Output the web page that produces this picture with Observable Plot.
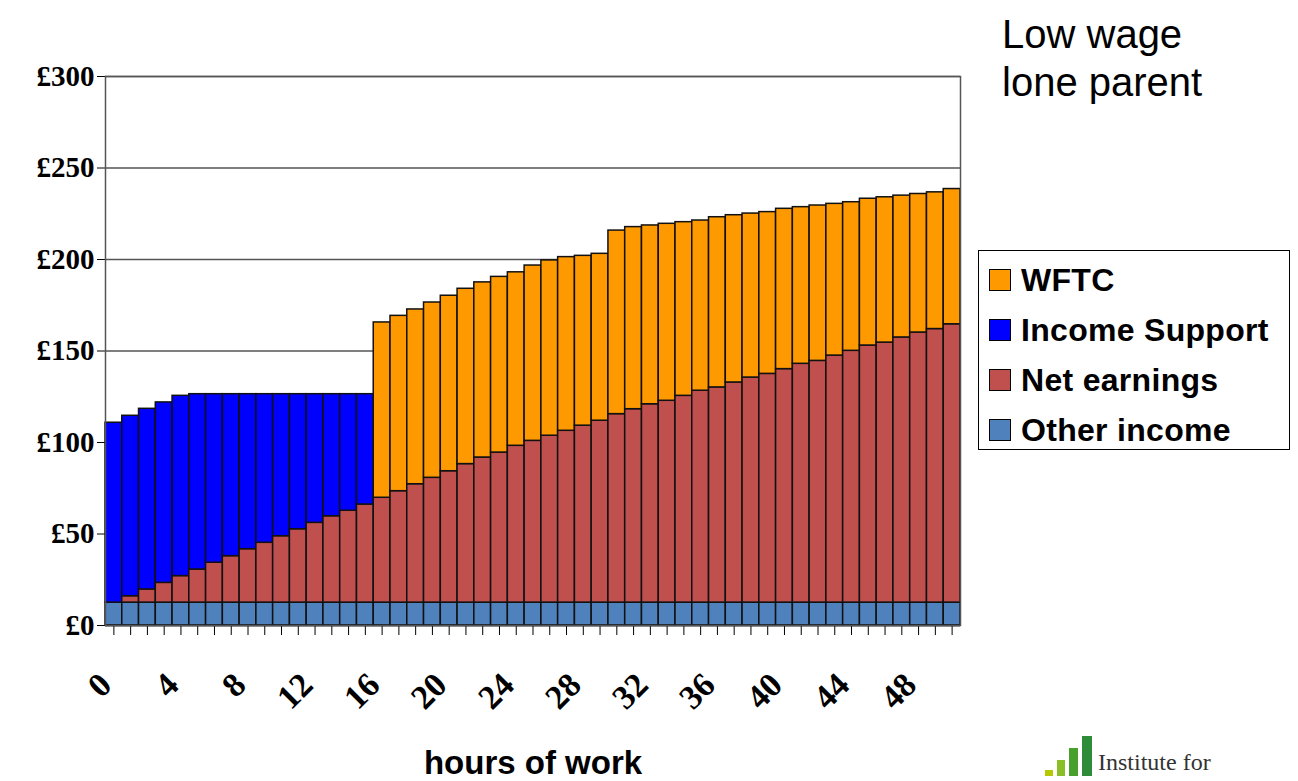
<!DOCTYPE html>
<html>
<head>
<meta charset="utf-8">
<script src="https://cdn.jsdelivr.net/npm/d3@7"></script>
<script src="https://cdn.jsdelivr.net/npm/@observablehq/plot@0.6"></script>
<style>
  body { margin: 0; background: #fff; }
  #wrap { position: relative; width: 1298px; height: 781px; }
  #title { position: absolute; left: 1002px; top: 10px; font: 40px Arial, "Liberation Sans", sans-serif; line-height: 48px; }
  #legend { position: absolute; left: 978px; top: 250px; width: 312px; height: 200px; border: 1px solid #000; box-sizing: border-box;
            font: bold 32px Arial, "Liberation Sans", sans-serif; padding: 4px 0 0 10px; letter-spacing: 0.3px; }
  #legend div { height: 50px; display: flex; align-items: center; white-space: nowrap; }
  #legend span { display: inline-block; flex: none; width: 20px; height: 20px; border: 1px solid #000; margin-right: 10px; }
  #logo { position: absolute; left: 1045px; top: 736px; font: 24px "Liberation Serif", serif; color: #333; }
</style>
</head>
<body>
<div id="wrap">
  <div id="chart"></div>
  <div id="title">Low wage<br>lone parent</div>
  <div id="legend"></div>
  <div id="logo"></div>
</div>
<script>
const hours = d3.range(0, 51);
const otherIncome = hours.map(() => 12.5);
const netEarnings = [0, 3.5, 7.2, 10.8, 14.5, 18.1, 21.8, 25.4, 29.2, 32.7, 36.3, 40.1, 43.6, 47.2, 50.2, 53.6,
  57.3, 60.9, 64.7, 68.2, 71.8, 75.7, 79.3, 82, 85.7, 88.4, 91.2, 93.9, 96.7, 99.4, 103, 105.7, 108.4, 110.3,
  113, 115.8, 117.6, 120.3, 123, 125, 127.6, 130.5, 132.1, 135, 137.6, 140.5, 142.1, 144.9, 147.6, 149.5, 152.1];
const totalIncome = [110.8, 114.6, 118.4, 121.9, 125.5, 126.4, 126.4, 126.4, 126.4, 126.4, 126.4, 126.4, 126.4,
  126.4, 126.4, 126.4, 165.6, 169.2, 172.7, 176.5, 180.2, 184, 187.5, 190.5, 193, 196.7, 199.5, 201.3, 202, 203.1,
  215.8, 217.7, 218.6, 219.5, 220.4, 221.3, 223.1, 224.2, 225.1, 225.9, 227.7, 228.6, 229.5, 230.4, 231.3, 233.2,
  234, 234.9, 235.8, 236.7, 238.5];
const wftcStart = 16;
const series = ["Other income", "Net earnings", "Income Support", "WFTC"];
const colors = ["#4F81BD", "#C0504D", "#0000FF", "#FF9900"];
const yTicks = [0, 50, 100, 150, 200, 250, 300];
const xLabels = d3.range(0, 49, 4);

const rows = [];
hours.forEach((h, i) => {
  const rest = totalIncome[i] - otherIncome[i] - netEarnings[i];
  rows.push({hour: h, series: "Other income", value: otherIncome[i]});
  rows.push({hour: h, series: "Net earnings", value: netEarnings[i]});
  rows.push({hour: h, series: "Income Support", value: h < wftcStart ? rest : 0});
  rows.push({hour: h, series: "WFTC", value: h < wftcStart ? 0 : rest});
});

const serif = "'Liberation Serif', 'Times New Roman', serif";
const chart = Plot.plot({
  width: 1298,
  height: 781,
  marginLeft: 105,
  marginRight: 338,
  marginTop: 76,
  marginBottom: 156,
  x: {type: "band", domain: hours, padding: 0},
  y: {domain: [0, 300]},
  color: {domain: series, range: colors},
  marks: [
    Plot.gridY(yTicks, {stroke: "#555", strokeOpacity: 1, strokeWidth: 1.5}),
    Plot.barY(rows, {x: "hour", y: "value", fill: "series", order: series, stroke: "#111", strokeWidth: 1.5, inset: 0}),
    Plot.axisY({ticks: yTicks, tickFormat: d => "£" + d, tickSize: 8, fontSize: 29, fontWeight: "bold",
      fontFamily: serif, label: null, tickPadding: 3}),
    Plot.axisX({ticks: hours, tickFormat: () => "", tickSize: 10, label: null}),
    Plot.axisX({ticks: xLabels, tickSize: 0, tickRotate: -45, fontSize: 34, fontWeight: "bold",
      fontFamily: serif, dy: 42, dx: -8, label: null}),
    Plot.ruleY([0], {stroke: "#000", strokeWidth: 1.5}),
    Plot.frame({stroke: "#555", strokeWidth: 1.5}),
    Plot.text(["hours of work"], {frameAnchor: "bottom", dy: 148, fontSize: 33, fontWeight: "bold",
      fontFamily: "Arial, 'Liberation Sans', sans-serif"})
  ]
});
d3.select("#chart").append(() => chart);

const legend = d3.select("#legend");
[3, 2, 1, 0].forEach(i => {
  const row = legend.append("div");
  row.append("span").style("background", colors[i]);
  row.append("text").text(series[i]);
});

// small logo in the corner
const logo = d3.select("#logo");
logo.html(`<span style="display:inline-flex;align-items:flex-end;height:40px;gap:4px;margin-right:6px;vertical-align:bottom">
  <i style="width:8px;height:6px;background:#b5c900"></i><i style="width:8px;height:16px;background:#8cbf26"></i>
  <i style="width:9px;height:28px;background:#4aa02c"></i><i style="width:10px;height:40px;background:#2e8b3a"></i></span>Institute for`);
</script>
</body>
</html>
